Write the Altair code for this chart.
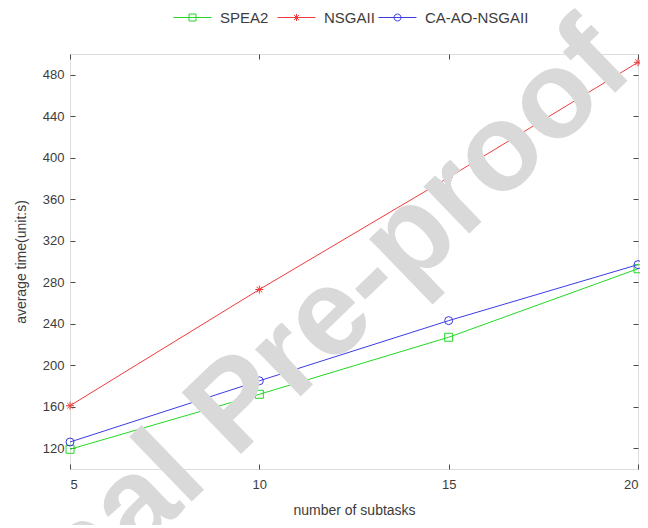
import altair as alt
import pandas as pd

# ---- data ----
subtasks = [5, 10, 15, 20]
spea2 = [119, 172, 227, 293]
nsgaii = [161, 273, 381, 492]
ca_ao_nsgaii = [126, 185, 243, 297]
series_names = ["SPEA2", "NSGAII", "CA-AO-NSGAII"]
series_colors = ["#22d822", "#ef3b3b", "#3b3be6"]
x_ticks = [5, 10, 15, 20]
y_ticks = [120, 160, 200, 240, 280, 320, 360, 400, 440, 480]
x_domain = [5, 20]
y_domain = [100, 500]
watermark_text = "Journal Pre-proof"
watermark_pos = {"x": 9.4, "y": 160}

rows = []
for name, vals in zip(series_names, [spea2, nsgaii, ca_ao_nsgaii]):
    for xv, v in zip(subtasks, vals):
        rows.append({"subtasks": xv, "time": v, "series": name})
df = pd.DataFrame(rows)
wm = pd.DataFrame({"x": [watermark_pos["x"]], "y": [watermark_pos["y"]], "text": [watermark_text]})

W, H = 568, 415
FONT = "Liberation Sans"
TXT = "#3c3c3c"
AX = "#4a4a4a"

xs = alt.Scale(domain=x_domain, nice=False, zero=False)
ys = alt.Scale(domain=y_domain, nice=False, zero=False)
cs = alt.Scale(domain=series_names, range=series_colors)

# plot markers (unit square paths)
ast = "M-1,0H1M0,-1V1M-0.7,-0.7L0.7,0.7M-0.7,0.7L0.7,-0.7"
marker_shapes = ["square", ast, "circle"]
# legend symbols: line through marker
leg_sq = "M-4.75,0H4.75M-0.875,-0.875H0.875V0.875H-0.875Z"
leg_ast = "M-4.75,0H4.75M0,-0.875V0.875M-0.62,-0.62L0.62,0.62M-0.62,0.62L0.62,-0.62"
leg_ci = "M-4.75,0H4.75M-0.875,0A0.875,0.875 0 1,1 0.875,0A0.875,0.875 0 1,1 -0.875,0Z"
legend_shapes = [leg_sq, leg_ast, leg_ci]
legend_x = [115, 219, 320]


def tick_axis(orient, values, offset):
    return alt.Axis(orient=orient, values=values, offset=offset, labels=False, ticks=True,
                    tickSize=5, tickColor=AX, tickWidth=1, domain=False, grid=False, title=None)


lines = alt.Chart(df).mark_line(strokeWidth=1).encode(
    x=alt.X("subtasks:Q", scale=xs, axis=alt.Axis(
        orient="bottom", values=x_ticks, format="d", title="number of subtasks",
        domain=False, ticks=False, tickSize=0, grid=False, labelPadding=9, titlePadding=12,
        labelFontSize=13, titleFontSize=14, labelFont=FONT, titleFont=FONT,
        labelColor=TXT, titleColor=TXT, titleFontWeight="normal")),
    y=alt.Y("time:Q", scale=ys, axis=alt.Axis(
        orient="left", values=y_ticks, format="d", title="average time(unit:s)",
        domain=False, ticks=False, tickSize=0, grid=False, labelPadding=6, titlePadding=14,
        labelFontSize=13, titleFontSize=14, labelFont=FONT, titleFont=FONT,
        labelColor=TXT, titleColor=TXT, titleFontWeight="normal")),
    color=alt.Color("series:N", scale=cs, legend=None),
    detail="series:N",
)

points = alt.Chart(df).mark_point(filled=False, size=64, strokeWidth=1, opacity=1).encode(
    x=alt.X("subtasks:Q", scale=xs, axis=None),
    y=alt.Y("time:Q", scale=ys, axis=None),
    color=alt.Color("series:N", scale=cs, legend=None),
    shape=alt.Shape("series:N", scale=alt.Scale(domain=series_names, range=marker_shapes), legend=None),
)


def legend_entry(i):
    leg = alt.Legend(orient="none", legendX=legend_x[i], legendY=-44, direction="horizontal",
                     title=None, symbolSize=64, symbolStrokeWidth=1, labelOffset=20,
                     labelFontSize=15, labelFont=FONT, labelColor=TXT, padding=0)
    return alt.Chart(df).transform_filter("false").mark_point(
        filled=False, size=64, strokeWidth=1, opacity=1).encode(
        x=alt.X("subtasks:Q", scale=xs, axis=None),
        y=alt.Y("time:Q", scale=ys, axis=None),
        color=alt.Color("series:N", scale=alt.Scale(domain=[series_names[i]], range=[series_colors[i]]),
                        legend=leg),
        shape=alt.Shape("series:N", scale=alt.Scale(domain=[series_names[i]], range=[legend_shapes[i]]),
                        legend=leg),
    )


ticks_a = alt.Chart(df).mark_point(opacity=0).encode(
    x=alt.X("subtasks:Q", scale=xs, axis=tick_axis("top", x_ticks, -H)),
    y=alt.Y("time:Q", scale=ys, axis=tick_axis("right", y_ticks, -W)),
)
ticks_b = alt.Chart(df).mark_point(opacity=0).encode(
    x=alt.X("subtasks:Q", scale=xs, axis=tick_axis("bottom", x_ticks, -H)),
    y=alt.Y("time:Q", scale=ys, axis=tick_axis("left", y_ticks, -W)),
)

watermark = alt.Chart(wm).mark_text(angle=316, fontSize=124, font=FONT, fontWeight="bold",
                                    color="#d9d9d9", align="center", baseline="middle").encode(
    x=alt.X("x:Q", scale=xs, axis=None),
    y=alt.Y("y:Q", scale=ys, axis=None),
    text="text:N",
)

chart = alt.layer(lines, points, legend_entry(0), legend_entry(1), legend_entry(2),
                  ticks_a, ticks_b, watermark).resolve_scale(
    x="independent", y="independent", color="independent", shape="independent"
).resolve_axis(x="independent", y="independent").properties(
    width=W, height=H,
    autosize=alt.AutoSizeParams(type="none"),
    padding={"left": 62, "top": 46, "right": 2, "bottom": 56},
).configure_view(stroke=AX, strokeWidth=1).configure(background="white")

chart.save("out.html", embed_options={"renderer": "svg", "actions": False})
